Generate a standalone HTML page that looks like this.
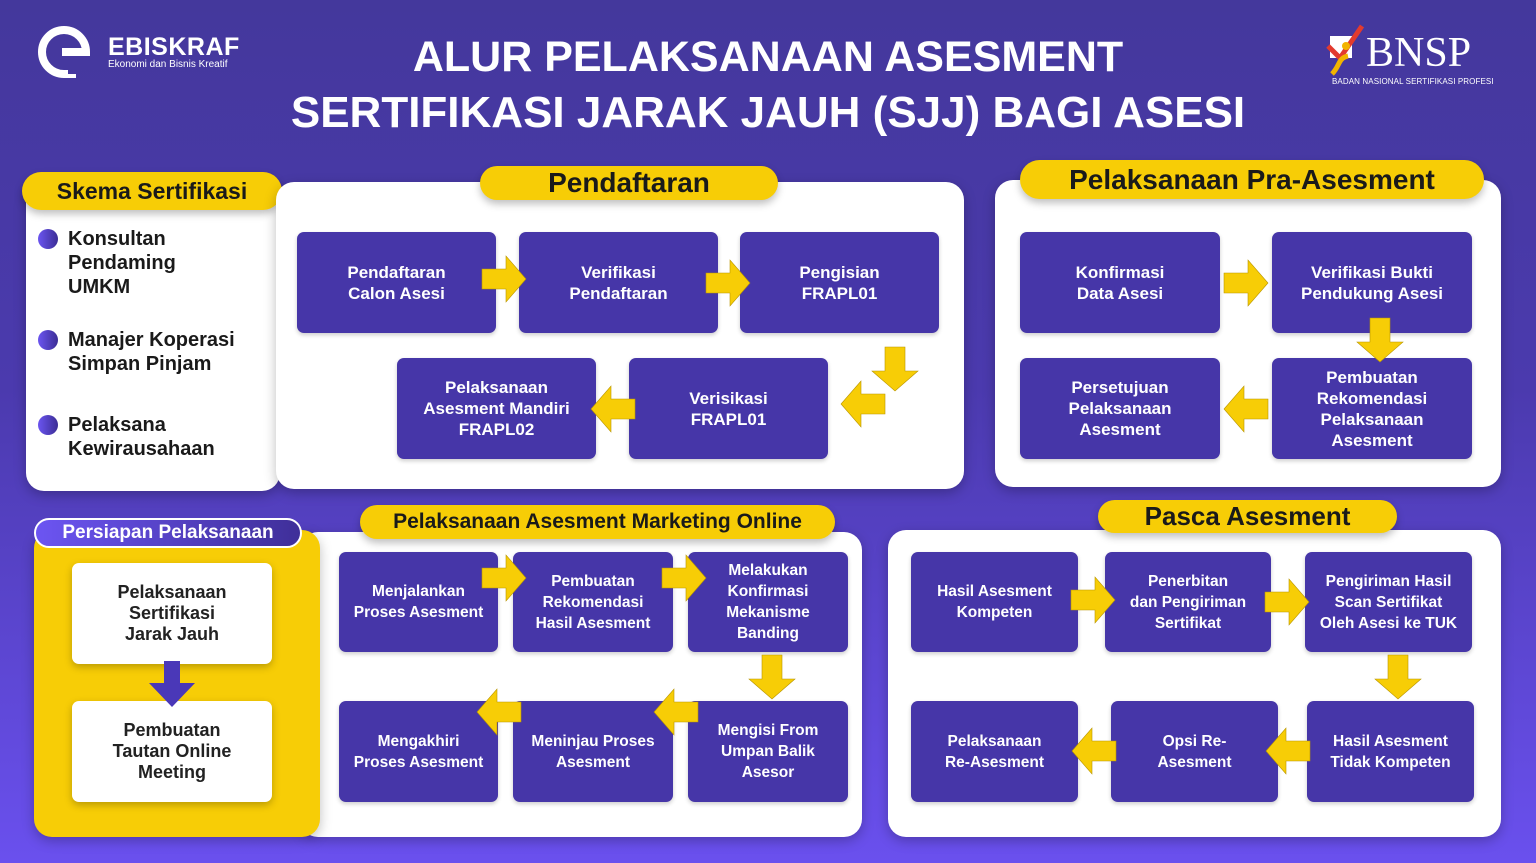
<!DOCTYPE html>
<html><head><meta charset="utf-8"><style>
*{margin:0;padding:0;box-sizing:border-box}
body{width:1536px;height:863px;overflow:hidden;position:relative;font-family:"Liberation Sans",sans-serif;background:linear-gradient(180deg,#44389c 0%,#4b3aae 45%,#6a50ee 100%)}
.a{position:absolute}
.p{position:absolute;background:#fff;border-radius:18px;box-shadow:0 4px 12px rgba(0,0,0,.25)}
.tag{position:absolute;background:#f7cd06;border-radius:20px;color:#1a1a1a;font-weight:bold;display:flex;align-items:center;justify-content:center;box-shadow:0 4px 8px rgba(0,0,0,.25)}
.b{position:absolute;background:#4636a8;border-radius:7px;color:#fff;display:flex;align-items:center;justify-content:center;text-align:center;font-weight:bold;font-size:17px;line-height:21px;box-shadow:0 2px 4px rgba(0,0,0,.2)}
.s{font-size:15.5px;line-height:21px}
.w{position:absolute;background:#fff;border-radius:7px;color:#222;display:flex;align-items:center;justify-content:center;text-align:center;font-weight:bold;font-size:18px;line-height:21px;box-shadow:0 3px 8px rgba(0,0,0,.25)}
svg.ar{position:absolute;overflow:visible}
.li{position:absolute;left:68px;font-size:20px;font-weight:bold;color:#1a1a1a;line-height:24px}
.dot{position:absolute;left:38px;width:20px;height:20px;border-radius:50%;background:linear-gradient(90deg,#6b55f0,#3b2d95)}
</style></head><body>
<svg class="ar" style="left:42px;top:26px" width="60" height="52" viewBox="0 0 60 52"><path d="M26 48 H22 A22 22 0 1 1 44 26 H20" fill="none" stroke="#fff" stroke-width="8"/><path d="M24 48 v4 h10 v-4" fill="#fff"/></svg>
<div class="a" style="left:108px;top:33px;color:#fff;font-weight:bold;font-size:25px;letter-spacing:0.5px">EBISKRAF</div>
<div class="a" style="left:108px;top:59px;color:#fff;font-size:10px">Ekonomi dan Bisnis Kreatif</div>
<div class="a" style="left:0;width:1536px;top:30px;text-align:center;color:#fff;font-weight:bold;font-size:43px;line-height:55px">ALUR PELAKSANAAN ASESMENT<br><span style="font-size:44px">SERTIFIKASI JARAK JAUH (SJJ) BAGI ASESI</span></div>
<svg class="ar" style="left:1326px;top:26px" width="40" height="52"><rect x="4" y="10" width="22" height="22" fill="#fff"/><path d="M2 20 L14 32 L36 0" fill="none" stroke="#e23a2e" stroke-width="5"/><path d="M6 48 C14 40 12 32 22 30" fill="none" stroke="#f2b400" stroke-width="5"/><circle cx="20" cy="20" r="4" fill="#f2b400"/></svg>
<div class="a" style="left:1366px;top:30px;color:#fff;font-family:'Liberation Serif',serif;font-size:42px;line-height:46px">BNSP</div>
<div class="a" style="left:1332px;top:77px;color:#fff;font-size:8px;letter-spacing:0.1px">BADAN NASIONAL SERTIFIKASI PROFESI</div>

<div class="p" style="left:26px;top:182px;width:254px;height:309px"></div>
<div class="tag" style="left:22px;top:172px;width:260px;height:38px;font-size:23px">Skema Sertifikasi</div>
<div class="dot" style="top:229px"></div><div class="li" style="top:227px">Konsultan<br>Pendaming<br>UMKM</div>
<div class="dot" style="top:330px"></div><div class="li" style="top:328px">Manajer Koperasi<br>Simpan Pinjam</div>
<div class="dot" style="top:415px"></div><div class="li" style="top:413px">Pelaksana<br>Kewirausahaan</div>

<div class="p" style="left:276px;top:182px;width:688px;height:307px"></div>
<div class="tag" style="left:480px;top:166px;width:298px;height:34px;font-size:28px">Pendaftaran</div>
<div class="b" style="left:297px;top:232px;width:199px;height:101px">Pendaftaran<br>Calon Asesi</div>
<div class="b" style="left:519px;top:232px;width:199px;height:101px">Verifikasi<br>Pendaftaran</div>
<div class="b" style="left:740px;top:232px;width:199px;height:101px">Pengisian<br>FRAPL01</div>
<div class="b" style="left:397px;top:358px;width:199px;height:101px">Pelaksanaan<br>Asesment Mandiri<br>FRAPL02</div>
<div class="b" style="left:629px;top:358px;width:199px;height:101px">Verisikasi<br>FRAPL01</div>

<div class="p" style="left:995px;top:180px;width:506px;height:307px"></div>
<div class="tag" style="left:1020px;top:160px;width:464px;height:39px;font-size:28px">Pelaksanaan Pra-Asesment</div>
<div class="b" style="left:1020px;top:232px;width:200px;height:101px">Konfirmasi<br>Data Asesi</div>
<div class="b" style="left:1272px;top:232px;width:200px;height:101px">Verifikasi Bukti<br>Pendukung Asesi</div>
<div class="b" style="left:1020px;top:358px;width:200px;height:101px">Persetujuan<br>Pelaksanaan<br>Asesment</div>
<div class="b" style="left:1272px;top:358px;width:200px;height:101px">Pembuatan<br>Rekomendasi<br>Pelaksanaan<br>Asesment</div>

<div class="p" style="left:300px;top:532px;width:562px;height:305px"></div>
<div class="a" style="left:34px;top:530px;width:286px;height:307px;background:#f7cd06;border-radius:18px;box-shadow:0 4px 12px rgba(0,0,0,.25)"></div>
<div class="a" style="left:34px;top:518px;width:268px;height:30px;border:2px solid #fff;border-radius:16px;background:linear-gradient(90deg,#6c55f2,#3f2f99);color:#fff;font-weight:bold;font-size:19px;display:flex;align-items:center;justify-content:center">Persiapan Pelaksanaan</div>
<div class="w" style="left:72px;top:563px;width:200px;height:101px">Pelaksanaan<br>Sertifikasi<br>Jarak Jauh</div>
<div class="w" style="left:72px;top:701px;width:200px;height:101px">Pembuatan<br>Tautan Online<br>Meeting</div>
<svg class="ar" style="left:149px;top:661px" width="46" height="46"><polygon points="15,0 31,0 31,22 46,22 23,46 0,22 15,22" fill="#4a38b8"/></svg>
<div class="tag" style="left:360px;top:505px;width:475px;height:34px;font-size:21px">Pelaksanaan Asesment Marketing Online</div>
<div class="b s" style="left:339px;top:552px;width:159px;height:100px">Menjalankan<br>Proses Asesment</div>
<div class="b s" style="left:513px;top:552px;width:160px;height:100px">Pembuatan<br>Rekomendasi<br>Hasil Asesment</div>
<div class="b s" style="left:688px;top:552px;width:160px;height:100px">Melakukan<br>Konfirmasi<br>Mekanisme<br>Banding</div>
<div class="b s" style="left:339px;top:701px;width:159px;height:101px">Mengakhiri<br>Proses Asesment</div>
<div class="b s" style="left:513px;top:701px;width:160px;height:101px">Meninjau Proses<br>Asesment</div>
<div class="b s" style="left:688px;top:701px;width:160px;height:101px">Mengisi From<br>Umpan Balik<br>Asesor</div>

<div class="p" style="left:888px;top:530px;width:613px;height:307px"></div>
<div class="tag" style="left:1098px;top:500px;width:299px;height:33px;font-size:26px">Pasca Asesment</div>
<div class="b s" style="left:911px;top:552px;width:167px;height:100px">Hasil Asesment<br>Kompeten</div>
<div class="b s" style="left:1105px;top:552px;width:166px;height:100px">Penerbitan<br>dan Pengiriman<br>Sertifikat</div>
<div class="b s" style="left:1305px;top:552px;width:167px;height:100px">Pengiriman Hasil<br>Scan Sertifikat<br>Oleh Asesi ke TUK</div>
<div class="b s" style="left:911px;top:701px;width:167px;height:101px">Pelaksanaan<br>Re-Asesment</div>
<div class="b s" style="left:1111px;top:701px;width:167px;height:101px">Opsi Re-<br>Asesment</div>
<div class="b s" style="left:1307px;top:701px;width:167px;height:101px">Hasil Asesment<br>Tidak Kompeten</div>

<svg width="0" height="0" style="position:absolute"><defs>
<polygon id="R" points="0,13 24,13 24,0 44,23 24,46 24,33 0,33" fill="#f7cd06" stroke="#b89500" stroke-width="0.6"/>
</defs></svg>
<svg class="ar" style="left:0;top:0" width="1536" height="863">
<g>
<use href="#R" transform="translate(482,256)"/>
<use href="#R" transform="translate(706,260)"/>
<use href="#R" transform="translate(1224,260)"/>
<use href="#R" transform="translate(482,555)"/>
<use href="#R" transform="translate(662,555)"/>
<use href="#R" transform="translate(1071,577)"/>
<use href="#R" transform="translate(1265,579)"/>
<use href="#R" transform="translate(885,381) scale(-1,1)"/>
<use href="#R" transform="translate(635,386) scale(-1,1)"/>
<use href="#R" transform="translate(1268,386) scale(-1,1)"/>
<use href="#R" transform="translate(521,689) scale(-1,1)"/>
<use href="#R" transform="translate(698,689) scale(-1,1)"/>
<use href="#R" transform="translate(1116,728) scale(-1,1)"/>
<use href="#R" transform="translate(1310,728) scale(-1,1)"/>
<use href="#R" transform="translate(918,347) rotate(90)"/>
<use href="#R" transform="translate(1403,318) rotate(90)"/>
<use href="#R" transform="translate(795,655) rotate(90)"/>
<use href="#R" transform="translate(1421,655) rotate(90)"/>
</g></svg>
</body></html>
